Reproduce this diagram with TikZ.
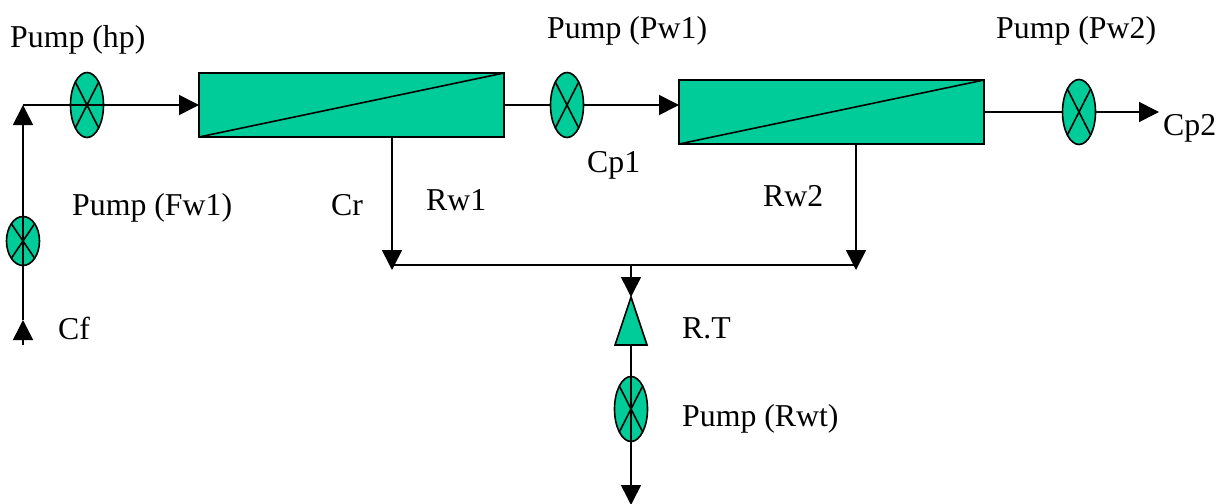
\documentclass[tikz,border=0pt]{standalone}
\usepackage{fontspec}
\setmainfont{Liberation Serif}
\usetikzlibrary{shapes.geometric,arrows.meta,calc}
\definecolor{mem}{HTML}{00CC99}
\tikzset{
  pipe/.style={line width=1.6pt,draw=black},
  flow/.style={pipe,-{Triangle[length=20pt,width=20pt]}},
  membrane/.style={rectangle,draw=black,line width=1.6pt,fill=mem,minimum width=305pt,minimum height=64pt,inner sep=0pt,outer sep=0pt},
  pumpbody/.style={ellipse,draw=black,line width=1.6pt,fill=mem,inner sep=0pt,outer sep=0pt},
  pumpbig/.style={pumpbody,minimum width=33pt,minimum height=65pt},
  pumpsmall/.style={pumpbody,minimum width=33pt,minimum height=49pt},
  valve/.style={isosceles triangle,isosceles triangle apex angle=36.87,isosceles triangle stretches,shape border rotate=90,draw=black,line width=1.6pt,fill=mem,minimum width=32pt,minimum height=48pt,inner sep=0pt,outer sep=0pt},
  lab/.style={anchor=base west,inner sep=0pt,font=\fontsize{31.8}{32}\selectfont}
}
\newcommand{\crossp}[1]{\draw[pipe] (#1.north west) -- (#1.south east) (#1.north east) -- (#1.south west);}
\begin{document}
\begin{tikzpicture}[x=1pt,y=-1pt]
\useasboundingbox (0,0) rectangle (1225,503);
\clip (0,0) rectangle (1225,503);
% nodes
\node[membrane] (m1) at (351.5,105) {};
\node[membrane] (m2) at (831.5,112) {};
\node[pumpbig] (php) at (87,105) {};
\node[pumpsmall] (pfw) at (23,241) {};
\node[pumpbig] (pw1) at (567,105) {};
\node[pumpbig] (pw2) at (1079,112) {};
\node[pumpbig] (prw) at (631,409) {};
\node[valve,anchor=apex] (rt) at (631,297) {};
% free points
\coordinate (cfstart) at (23,345);
\coordinate (cftip) at (23,320);
\coordinate (corner) at (23,105);
\coordinate (out2) at (1159,112);
\coordinate (j1) at (392,265);
\coordinate (j2) at (856,265);
\coordinate (j3) at (631,265);
\coordinate (drop1) at (392,270);
\coordinate (drop2) at (856,270);
\coordinate (rwout) at (631,505);
\coordinate (rtbase) at ($(rt.left corner)!0.5!(rt.right corner)$);
% membrane diagonals and pump crosses
\draw[pipe] (m1.south west) -- (m1.north east);
\draw[pipe] (m2.south west) -- (m2.north east);
\crossp{php}\crossp{pfw}\crossp{pw1}\crossp{pw2}\crossp{prw}
% connectors
\draw[flow] (cfstart) -- (cftip);
\draw[flow] (cftip) -- (corner);
\draw[flow] (corner) -- (m1.west);
\draw[pipe] (m1.east) -- (pw1.west);
\draw[flow] (pw1.east) -- (m2.west |- pw1.east);
\draw[pipe] (m2.east) -- (pw2.west);
\draw[flow] (pw2.east) -- (out2);
\draw[flow] (m1.south -| j1) -- (drop1);
\draw[flow] (m2.south -| j2) -- (drop2);
\draw[pipe] (j1) -- (j2);
\draw[flow] (j3) -- (rt.apex);
\draw[flow] (rtbase) -- (rwout);
% labels
\node[lab] (t1) at (10,48) {Pump (hp)};
\node[lab] (t2) at (547,39) {Pump (Pw1)};
\node[lab] (t3) at (996,39) {Pump (Pw2)};
\node[lab] (t4) at (72,215) {Pump (Fw1)};
\node[lab] (t5) at (331,215) {Cr};
\node[lab] (t6) at (426,210) {Rw1};
\node[lab] (t7) at (763,206) {Rw2};
\node[lab] (t8) at (587,172) {Cp1};
\node[lab] (t9) at (1163,135) {Cp2};
\node[lab] (t10) at (58,339) {Cf};
\node[lab] (t11) at (682,338) {R.T};
\node[lab] (t12) at (682,426) {Pump (Rwt)};
\end{tikzpicture}
\end{document}
